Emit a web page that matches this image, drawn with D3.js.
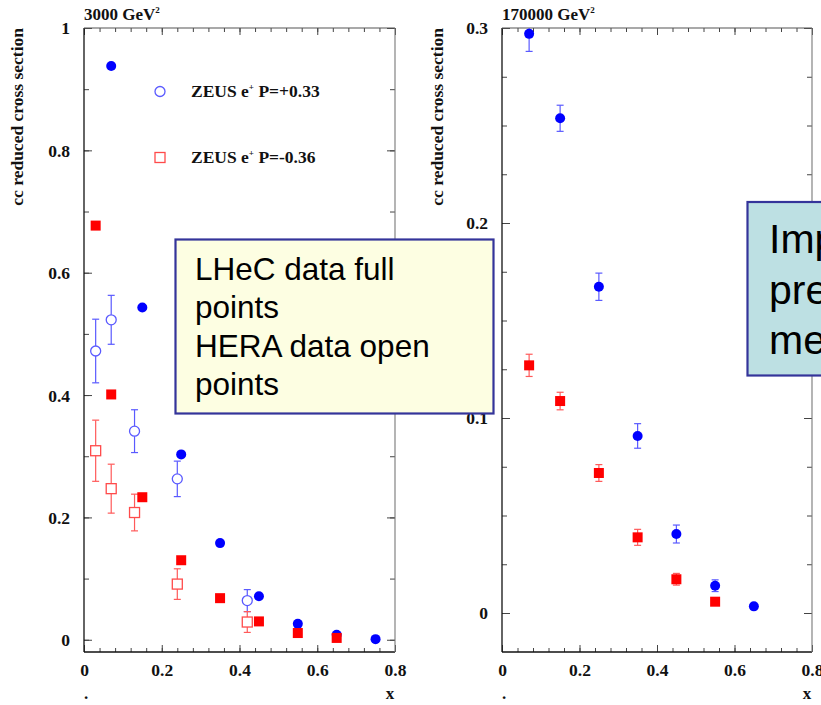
<!DOCTYPE html>
<html><head><meta charset="utf-8">
<script src="https://cdn.jsdelivr.net/npm/d3@7"></script>
<style>
html,body{margin:0;padding:0;background:#fff;overflow:hidden;}
svg{display:block;}
</style></head>
<body>
<script>
// ---------- data ----------
const panelTitles = ["3000 GeV", "170000 GeV"];
const yLabel = "cc reduced cross section";

// left panel (Q2 = 3000 GeV2)
const leftLhecBlueX = [0.07, 0.15, 0.25, 0.35, 0.45, 0.55, 0.65, 0.75];
const leftLhecBlueY = [0.938, 0.543, 0.303, 0.158, 0.071, 0.026, 0.008, 0.001];
const leftLhecRedX = [0.03, 0.07, 0.15, 0.25, 0.35, 0.45, 0.55, 0.65];
const leftLhecRedY = [0.677, 0.401, 0.233, 0.130, 0.068, 0.030, 0.011, 0.003];
const leftZeusBlueX = [0.03, 0.07, 0.13, 0.24, 0.42];
const leftZeusBlueY = [0.472, 0.523, 0.341, 0.263, 0.064];
const leftZeusBlueErr = [0.052, 0.040, 0.035, 0.029, 0.018];
const leftZeusRedX = [0.03, 0.07, 0.13, 0.24, 0.42];
const leftZeusRedY = [0.309, 0.247, 0.208, 0.091, 0.029];
const leftZeusRedErr = [0.050, 0.040, 0.030, 0.025, 0.017];

// right panel (Q2 = 170000 GeV2)
const rightBlueX = [0.07, 0.15, 0.25, 0.35, 0.45, 0.55, 0.65];
const rightBlueY = [0.297, 0.2537, 0.1673, 0.0908, 0.0405, 0.014, 0.0034];
const rightBlueErr = [0.009, 0.0067, 0.007, 0.0063, 0.0046, 0.003, 0.0008];
const rightRedX = [0.07, 0.15, 0.25, 0.35, 0.45, 0.55];
const rightRedY = [0.127, 0.1087, 0.0718, 0.0388, 0.0173, 0.0058];
const rightRedErr = [0.0057, 0.0045, 0.0043, 0.0041, 0.003, 0.001];

// ticks
const xMajorTicks = [0, 0.2, 0.4, 0.6, 0.8];
const xTickLabels = ["0", "0.2", "0.4", "0.6", "0.8"];
const leftYMajor = [0, 0.2, 0.4, 0.6, 0.8, 1];
const leftYLabels = ["0", "0.2", "0.4", "0.6", "0.8", "1"];
const rightYMajor = [0, 0.1, 0.2, 0.3];
const rightYLabels = ["0", "0.1", "0.2", "0.3"];

const legendLabels = ["ZEUS e", "ZEUS e"];
const legendSup = ["+", "+"];
const legendRest = [" P=+0.33", " P=-0.36"];

const yellowText = ["LHeC data full", "points", "HERA data open", "points"];
const cyanText = ["Imp", "pre", "me"];

// ---------- drawing ----------
const W = 821, H = 705;
const svg = d3.select("body").append("svg").attr("width", W).attr("height", H);
const SERIF = "'Liberation Serif','Times New Roman',serif";
const SANS = "'Liberation Sans',Arial,sans-serif";

function zip(xs, ys, es) { return xs.map((x, i) => ({x, y: ys[i], e: es ? es[i] : 0})); }

function drawPanel(o) {
  const g = svg.append("g");
  const x = d3.scaleLinear().domain([0, 0.8]).range([o.x0, o.x1]);
  const y = d3.scaleLinear().domain(o.yDomain).range([652, 28]);
  const left = o.x0, right = o.x1, top = 28, bottom = 652;

  const clipId = "clip" + o.id;
  svg.append("clipPath").attr("id", clipId).append("rect")
    .attr("x", left).attr("y", top).attr("width", right - left).attr("height", bottom - top);

  const xMinor = d3.range(0, 0.8001, 0.04).map(v => +v.toFixed(3));
  const axB = g.append("g").attr("transform", `translate(0,${bottom})`)
    .call(d3.axisBottom(x).tickValues(xMinor).tickSize(-4).tickFormat(""));
  const axB2 = g.append("g").attr("transform", `translate(0,${bottom})`)
    .call(d3.axisBottom(x).tickValues(xMajorTicks).tickSize(-7).tickFormat((d, i) => xTickLabels[i]).tickPadding(12));
  const axT = g.append("g").attr("transform", `translate(0,${top})`)
    .call(d3.axisTop(x).tickValues(xMinor).tickSize(-4).tickFormat(""));
  const axT2 = g.append("g").attr("transform", `translate(0,${top})`)
    .call(d3.axisTop(x).tickValues(xMajorTicks).tickSize(-7).tickFormat(""));
  const axL = g.append("g").attr("transform", `translate(${left},0)`)
    .call(d3.axisLeft(y).tickValues(o.yMinor).tickSize(-5).tickFormat(""));
  const axL2 = g.append("g").attr("transform", `translate(${left},0)`)
    .call(d3.axisLeft(y).tickValues(o.yMajor).tickSize(-8).tickFormat((d, i) => o.yLabels[i]).tickPadding(14));
  const axR = g.append("g").attr("transform", `translate(${right},0)`)
    .call(d3.axisRight(y).tickValues(o.yMinor).tickSize(-5).tickFormat(""));
  const axR2 = g.append("g").attr("transform", `translate(${right},0)`)
    .call(d3.axisRight(y).tickValues(o.yMajor).tickSize(-8).tickFormat(""));

  [axB, axB2, axT, axT2, axL, axL2, axR, axR2].forEach(a => {
    a.select(".domain").remove();
    a.selectAll(".tick line").attr("stroke", "#444").attr("stroke-width", 1);
    a.selectAll("text").attr("font-family", SERIF).attr("font-weight", "bold")
      .attr("font-size", 17.5).attr("fill", "#111");
  });
  axB2.selectAll("text").attr("dy", "0.71em");
  axL2.selectAll("text").attr("dy", "0.34em");

  // frame
  g.append("line").attr("x1", left).attr("x2", left).attr("y1", top).attr("y2", bottom).attr("stroke", "#111").attr("stroke-width", 1.3);
  g.append("line").attr("x1", left).attr("x2", right).attr("y1", bottom).attr("y2", bottom).attr("stroke", "#111").attr("stroke-width", 1.3);
  g.append("line").attr("x1", left).attr("x2", right).attr("y1", top).attr("y2", top).attr("stroke", "#555").attr("stroke-width", 1.1);
  g.append("line").attr("x1", right).attr("x2", right).attr("y1", top).attr("y2", bottom).attr("stroke", "#777").attr("stroke-width", 1.1);

  // title
  const t = g.append("text").attr("x", left).attr("y", 20).attr("font-family", SERIF)
    .attr("font-weight", "bold").attr("font-size", 17).attr("fill", "#111").text(o.title);
  t.append("tspan").attr("font-size", 9).attr("dy", -7).text("2");

  // y axis label
  g.append("text").attr("transform", `translate(${o.yLabelX},28) rotate(-90)`)
    .attr("text-anchor", "end").attr("font-family", SERIF).attr("font-weight", "bold")
    .attr("font-size", 17.5).attr("fill", "#111").text(yLabel);

  // bottom marks "." and "x"
  g.append("text").attr("x", left + 2).attr("y", 699).attr("text-anchor", "middle").attr("font-family", SERIF)
    .attr("font-weight", "bold").attr("font-size", 17).attr("fill", "#111").text(".");
  g.append("text").attr("x", right - 5).attr("y", 699).attr("text-anchor", "middle").attr("font-family", SERIF)
    .attr("font-weight", "bold").attr("font-size", 17).attr("fill", "#111").text("x");

  const pg = g.append("g").attr("clip-path", `url(#${clipId})`);
  return {x, y, pg};
}

function errBars(p, data, color) {
  const gg = p.pg.append("g").attr("stroke", color).attr("stroke-width", 1.2);
  data.filter(d => d.e > 0).forEach(d => {
    const cx = p.x(d.x), y1 = p.y(d.y + d.e), y2 = p.y(d.y - d.e);
    gg.append("line").attr("x1", cx).attr("x2", cx).attr("y1", y1).attr("y2", y2);
    gg.append("line").attr("x1", cx - 3.5).attr("x2", cx + 3.5).attr("y1", y1).attr("y2", y1);
    gg.append("line").attr("x1", cx - 3.5).attr("x2", cx + 3.5).attr("y1", y2).attr("y2", y2);
  });
}
function circles(p, data, fill, stroke) {
  p.pg.append("g").selectAll("circle").data(data).join("circle")
    .attr("cx", d => p.x(d.x)).attr("cy", d => p.y(d.y)).attr("r", 5)
    .attr("fill", fill).attr("stroke", stroke).attr("stroke-width", stroke === "none" ? 0 : 1.3);
}
function squares(p, data, fill, stroke) {
  p.pg.append("g").selectAll("rect").data(data).join("rect")
    .attr("x", d => p.x(d.x) - 5).attr("y", d => p.y(d.y) - 5).attr("width", 10).attr("height", 10)
    .attr("fill", fill).attr("stroke", stroke).attr("stroke-width", stroke === "none" ? 0 : 1.3);
}

// left panel
const L = drawPanel({id: "L", x0: 84, x1: 395, yDomain: [-0.02, 1], title: panelTitles[0],
  yMajor: leftYMajor, yLabels: leftYLabels, yMinor: d3.range(0, 1.0001, 0.1).map(v => +v.toFixed(2)), yLabelX: 23});
const zb = zip(leftZeusBlueX, leftZeusBlueY, leftZeusBlueErr);
const zr = zip(leftZeusRedX, leftZeusRedY, leftZeusRedErr);
errBars(L, zb, "#5a5aff");
errBars(L, zr, "#ff5a5a");
circles(L, zb, "#fff", "#5a5aff");
squares(L, zr, "#fff", "#ff4a4a");
circles(L, zip(leftLhecBlueX, leftLhecBlueY), "#0000ff", "none");
squares(L, zip(leftLhecRedX, leftLhecRedY), "#ff0000", "none");

// legend (left panel)
const lg = svg.append("g");
lg.append("circle").attr("cx", 160).attr("cy", 91.5).attr("r", 5).attr("fill", "none").attr("stroke", "#5a5aff").attr("stroke-width", 1.3);
lg.append("rect").attr("x", 155).attr("y", 152.5).attr("width", 10).attr("height", 10).attr("fill", "none").attr("stroke", "#ff4a4a").attr("stroke-width", 1.3);
[97, 162.5].forEach((by, i) => {
  const tx = lg.append("text").attr("x", 191).attr("y", by).attr("font-family", SERIF).attr("font-weight", "bold")
    .attr("font-size", 17.5).attr("fill", "#111").text(legendLabels[i]);
  tx.append("tspan").attr("font-size", 9).attr("dy", -7).text(legendSup[i]);
  tx.append("tspan").attr("dy", 7).text(legendRest[i]);
});

// right panel
const R = drawPanel({id: "R", x0: 502, x1: 812, yDomain: [-0.02, 0.3], title: panelTitles[1],
  yMajor: rightYMajor, yLabels: rightYLabels, yMinor: d3.range(0, 0.3001, 0.025).map(v => +v.toFixed(3)), yLabelX: 443});
const rb = zip(rightBlueX, rightBlueY, rightBlueErr);
const rr = zip(rightRedX, rightRedY, rightRedErr);
errBars(R, rr, "#ff5a5a");
errBars(R, rb, "#5a5aff");
squares(R, rr, "#ff0000", "none");
circles(R, rb, "#0000ff", "none");

// annotation boxes
const yb = svg.append("g");
yb.append("rect").attr("x", 175.5).attr("y", 239.5).attr("width", 318).attr("height", 174)
  .attr("fill", "#fdfee2").attr("stroke", "#34349a").attr("stroke-width", 2.2);
yellowText.forEach((s, i) => {
  yb.append("text").attr("x", 195).attr("y", 280 + i * 38.3).attr("font-family", SANS)
    .attr("font-size", 31.5).attr("fill", "#000").text(s);
});
const cb = svg.append("g");
cb.append("rect").attr("x", 747.5).attr("y", 202).attr("width", 100).attr("height", 173.5)
  .attr("fill", "#bde0e3").attr("stroke", "#34349a").attr("stroke-width", 2.2);
cyanText.forEach((s, i) => {
  cb.append("text").attr("x", 769).attr("y", 252.7 + i * 50.8).attr("font-family", SANS)
    .attr("font-size", 41).attr("fill", "#000").text(s);
});
</script>
</body></html>
